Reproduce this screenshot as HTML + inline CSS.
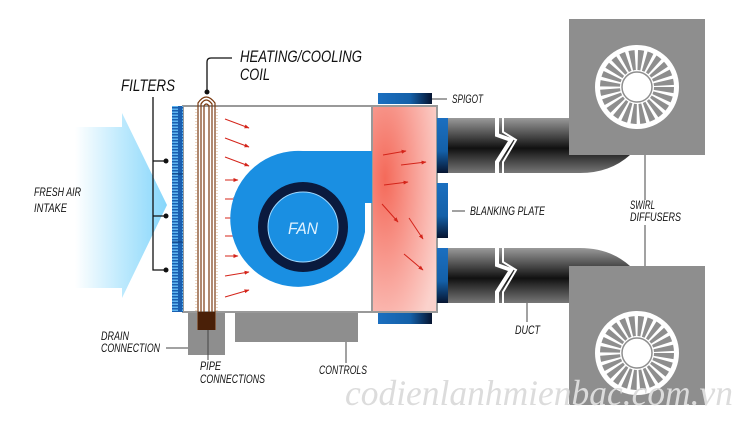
<!DOCTYPE html>
<html><head><meta charset="utf-8"><style>
html,body{margin:0;padding:0;background:#fff;}
svg{display:block;}
.l{font-family:"Liberation Sans",sans-serif;font-style:italic;fill:#111;}
</style></head><body>
<svg width="740" height="421" viewBox="0 0 740 421" xmlns="http://www.w3.org/2000/svg">
<defs>
<linearGradient id="air" x1="0" x2="1" y1="0" y2="0"><stop offset="0" stop-color="#fff"/><stop offset="0.5" stop-color="#bfeafd"/><stop offset="1" stop-color="#86d6fb"/></linearGradient>
<radialGradient id="red" cx="0.2" cy="0.35" r="0.9"><stop offset="0" stop-color="#f46a5a"/><stop offset="0.6" stop-color="#f9a9a0"/><stop offset="1" stop-color="#fbd2cc"/></radialGradient>
<linearGradient id="duct" x1="0" x2="0" y1="0" y2="1"><stop offset="0" stop-color="#9a9a9a"/><stop offset="0.55" stop-color="#111"/><stop offset="1" stop-color="#777"/></linearGradient>
<linearGradient id="spH" x1="0" x2="1"><stop offset="0" stop-color="#1b6fc0"/><stop offset="0.6" stop-color="#1460a8"/><stop offset="1" stop-color="#061430"/></linearGradient>
<linearGradient id="spV" x1="0" x2="0" y1="0" y2="1"><stop offset="0" stop-color="#1b6fc0"/><stop offset="0.6" stop-color="#1460a8"/><stop offset="1" stop-color="#061430"/></linearGradient>
<pattern id="filt" width="10" height="3" patternUnits="userSpaceOnUse"><rect width="10" height="3" fill="#1a5fb0"/><rect x="2" y="0.5" width="6" height="1.5" fill="#5fb6f0"/></pattern>
<marker id="ah" viewBox="0 0 10 10" refX="9" refY="5" markerWidth="5" markerHeight="5" orient="auto"><path d="M0,1 L10,5 L0,9 z" fill="#d4241a"/></marker>
</defs>

<path d="M75,127 L122,127 L122,113 L167,205 L122,298 L122,288 L75,288 Z" fill="url(#air)"/>

<rect x="188" y="312" width="37" height="43" fill="#8e8e8e"/>
<rect x="235" y="312" width="123" height="30" fill="#8e8e8e"/>

<rect x="183" y="106" width="189" height="206" fill="#fff" stroke="#999" stroke-width="2"/>
<rect x="372" y="106" width="65" height="206" fill="url(#red)" stroke="#999" stroke-width="2"/>

<rect x="172" y="106" width="11" height="206" fill="url(#filt)"/>
<line x1="172" y1="174" x2="183" y2="174" stroke="#0d3b78"/>
<line x1="172" y1="242" x2="183" y2="242" stroke="#0d3b78"/>

<g fill="none" stroke="#7a3a10" stroke-width="1.2">
<path d="M198,330 L198,103 Q206,91 215,103 L215,330"/>
<path d="M201,330 L201,104 Q206,96 212,104 L212,330"/>
<path d="M204,330 L204,106 Q206,102 209,106 L209,330"/>
</g>
<g stroke="#c08040" stroke-width="0.6"><line x1="196" y1="106" x2="196" y2="312" stroke-dasharray="1 2"/><line x1="217" y1="106" x2="217" y2="312" stroke-dasharray="1 2"/></g>
<rect x="198" y="312" width="17" height="18" fill="#4a2008"/>

<path d="M207,93 L207,62 Q207,58 211,58 L232,58" fill="none" stroke="#111" stroke-width="1.3"/>
<circle cx="207" cy="92" r="2.5" fill="#111"/>
<path d="M153,97 L153,270 L166,270 M153,216 L166,216 M153,161 L166,161" fill="none" stroke="#111" stroke-width="1.3"/>
<circle cx="166" cy="161" r="2.5" fill="#111"/><circle cx="166" cy="216" r="2.5" fill="#111"/><circle cx="166" cy="270" r="2.5" fill="#111"/>

<g stroke="#d4241a" stroke-width="1" marker-end="url(#ah)">
<line x1="225" y1="119" x2="249" y2="128"/>
<line x1="225" y1="138" x2="249" y2="147"/>
<line x1="225" y1="157" x2="249" y2="166"/>
<line x1="225" y1="180" x2="238" y2="180"/>
<line x1="225" y1="199" x2="238" y2="199"/>
<line x1="225" y1="218" x2="235" y2="218"/>
<line x1="225" y1="236" x2="238" y2="236"/>
<line x1="225" y1="256" x2="238" y2="256"/>
<line x1="225" y1="276" x2="249" y2="272"/>
<line x1="225" y1="297" x2="249" y2="290"/>
<line x1="383" y1="155" x2="406" y2="151"/>
<line x1="401" y1="165" x2="426" y2="162"/>
<line x1="384" y1="185" x2="408" y2="182"/>
<line x1="382" y1="204" x2="398" y2="222"/>
<line x1="409" y1="218" x2="423" y2="239"/>
<line x1="404" y1="254" x2="423" y2="270"/>
</g>

<path d="M372,151 L303,151 A68,68 0 1 0 365,232 L365,203 L372,203 Z" fill="#1a8fe2"/>
<circle cx="303" cy="227" r="45" fill="#0a1a3e"/>
<circle cx="303" cy="227" r="35" fill="#1a8fe2" stroke="#9fd8ff" stroke-width="1"/>
<text x="303" y="234" text-anchor="middle" class="l" font-size="17" textLength="30" lengthAdjust="spacingAndGlyphs" style="fill:#dff2ff">FAN</text>

<rect x="378" y="93" width="54" height="11" fill="url(#spH)"/>
<rect x="378" y="313" width="54" height="11" fill="url(#spH)"/>
<rect x="437" y="118" width="11" height="55" fill="url(#spV)"/>
<rect x="437" y="183" width="11" height="55" fill="url(#spV)"/>
<rect x="437" y="248" width="11" height="55" fill="url(#spV)"/>

<path d="M448,118 L570,118 L570,155 L630,155 Q610,173 580,173 L448,173 Z" fill="url(#duct)"/>
<path d="M448,248 L580,248 Q610,248 630,266 L570,266 L570,303 L448,303 Z" fill="url(#duct)"/>
<g fill="none" stroke="#fff" stroke-width="4">
<polyline points="497,114 497,135 511,140 497,162 497,178"/>
<polyline points="503,114 503,132 516,140 503,162 503,178" stroke-width="2"/>
<polyline points="497,244 497,265 511,270 497,292 497,308"/>
<polyline points="503,244 503,262 516,270 503,292 503,308" stroke-width="2"/>
</g>
<rect x="499" y="114" width="3" height="64" fill="none"/>

<rect x="569" y="19" width="136" height="136" fill="#8e8e8e"/>
<rect x="569" y="266" width="136" height="139" fill="#8e8e8e"/>
<circle cx="637" cy="87" r="42" fill="#fff"/>
<circle cx="637" cy="87" r="27" fill="none" stroke="#8e8e8e" stroke-width="20" stroke-dasharray="4.5 2.6"/>
<circle cx="637" cy="87" r="15" fill="#fff" stroke="#8e8e8e" stroke-width="1.5"/>
<circle cx="637" cy="353" r="42" fill="#fff"/>
<circle cx="637" cy="353" r="27" fill="none" stroke="#8e8e8e" stroke-width="20" stroke-dasharray="4.5 2.6"/>
<circle cx="637" cy="353" r="15" fill="#fff" stroke="#8e8e8e" stroke-width="1.5"/>

<g stroke="#444" stroke-width="1">
<line x1="432" y1="99" x2="447" y2="99"/>
<line x1="452" y1="211" x2="465" y2="211"/>
<line x1="645" y1="155" x2="645" y2="200"/>
<line x1="645" y1="225" x2="645" y2="266"/>
<line x1="527" y1="303" x2="527" y2="322"/>
<line x1="346" y1="342" x2="346" y2="363"/>
<line x1="166" y1="348" x2="188" y2="348"/>
<line x1="208" y1="330" x2="208" y2="360"/>
</g>

<g class="l">
<text x="240" y="62" font-size="17" textLength="122" lengthAdjust="spacingAndGlyphs">HEATING/COOLING</text>
<text x="240" y="80" font-size="17" textLength="30" lengthAdjust="spacingAndGlyphs">COIL</text>
<text x="121" y="91" font-size="17" textLength="54" lengthAdjust="spacingAndGlyphs">FILTERS</text>
<text x="34" y="196" font-size="12" textLength="47" lengthAdjust="spacingAndGlyphs">FRESH AIR</text>
<text x="34" y="212" font-size="12" textLength="33" lengthAdjust="spacingAndGlyphs">INTAKE</text>
<text x="101" y="340" font-size="12" textLength="28" lengthAdjust="spacingAndGlyphs">DRAIN</text>
<text x="101" y="352" font-size="12" textLength="59" lengthAdjust="spacingAndGlyphs">CONNECTION</text>
<text x="200" y="370" font-size="12" textLength="21" lengthAdjust="spacingAndGlyphs">PIPE</text>
<text x="200" y="383" font-size="12" textLength="65" lengthAdjust="spacingAndGlyphs">CONNECTIONS</text>
<text x="319" y="374" font-size="12" textLength="48" lengthAdjust="spacingAndGlyphs">CONTROLS</text>
<text x="452" y="103" font-size="12" textLength="31" lengthAdjust="spacingAndGlyphs">SPIGOT</text>
<text x="470" y="215" font-size="12" textLength="75" lengthAdjust="spacingAndGlyphs">BLANKING PLATE</text>
<text x="630" y="209" font-size="12" textLength="25" lengthAdjust="spacingAndGlyphs">SWIRL</text>
<text x="630" y="221" font-size="12" textLength="51" lengthAdjust="spacingAndGlyphs">DIFFUSERS</text>
<text x="515" y="334" font-size="12" textLength="25" lengthAdjust="spacingAndGlyphs">DUCT</text>
</g>
<text x="345" y="405" font-size="36" fill="#dcdcdc" textLength="388" lengthAdjust="spacingAndGlyphs" style="font-family:'Liberation Serif',serif;font-style:italic">codienlanhmienbac.com.vn</text>
</svg>
</body></html>
